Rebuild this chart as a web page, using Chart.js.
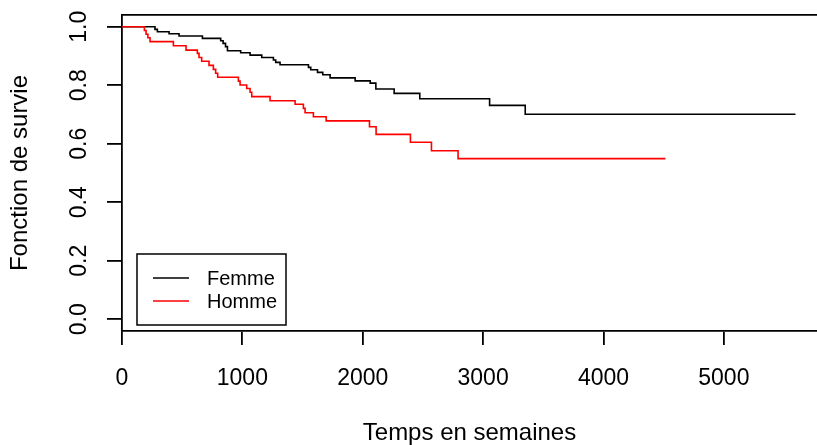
<!DOCTYPE html>
<html>
<head>
<meta charset="utf-8">
<script src="https://cdn.jsdelivr.net/npm/chart.js@4"></script>
<style>
html,body{margin:0;padding:0;background:#fff;overflow:hidden;}
canvas{display:block;}
</style>
</head>
<body>
<canvas id="c" width="817" height="445"></canvas>
<script>
// ---- Data (Kaplan-Meier step points: time in weeks, survival) ----
const femmeTimes = [0, 274, 294, 391, 474, 668, 820, 840, 860, 876, 986, 1064, 1161, 1258, 1277, 1313, 1549, 1568, 1624, 1668, 1729, 1937, 2062, 2109, 2261, 2474, 3054, 3350, 5595];
const femmeSurv  = [1.0, 0.991, 0.983, 0.976, 0.968, 0.960, 0.952, 0.943, 0.932, 0.918, 0.911, 0.903, 0.895, 0.886, 0.878, 0.870, 0.861, 0.853, 0.844, 0.836, 0.825, 0.815, 0.807, 0.787, 0.772, 0.754, 0.731, 0.701, 0.701];
const hommeTimes = [0, 186, 200, 215, 233, 427, 532, 626, 640, 662, 723, 759, 778, 795, 967, 981, 1036, 1064, 1078, 1230, 1438, 1507, 1521, 1590, 1696, 2056, 2111, 2396, 2571, 2792, 4515];
const hommeSurv  = [1.0, 0.987, 0.974, 0.962, 0.949, 0.935, 0.920, 0.909, 0.895, 0.882, 0.868, 0.854, 0.841, 0.827, 0.814, 0.801, 0.789, 0.776, 0.761, 0.747, 0.735, 0.721, 0.706, 0.692, 0.678, 0.658, 0.632, 0.605, 0.576, 0.549, 0.549];
const seriesLabels = ['Femme', 'Homme'];
const xTicks = [0, 1000, 2000, 3000, 4000, 5000];
const yTicks = [0.0, 0.2, 0.4, 0.6, 0.8, 1.0];
const xTitle = 'Temps en semaines';
const yTitle = 'Fonction de survie';

const toPts = (t, s) => t.map((v, i) => ({x: v, y: s[i]}));
const FONT = "'Liberation Sans', Arial, Helvetica, sans-serif";
Chart.defaults.font.family = FONT;
Chart.defaults.color = '#000';

const AXW = 1.8;
function zeroPad(s){ s.paddingTop = 0; s.paddingBottom = 0; s.paddingLeft = 0; s.paddingRight = 0; }

const legendBox = {
  id: 'legendBox',
  afterDraw(chart) {
    const ctx = chart.ctx;
    ctx.save();
    ctx.strokeStyle = '#000';
    ctx.lineWidth = 1.5;
    ctx.strokeRect(137, 254, 149, 71);
    const ys = [278, 301];
    ctx.font = '20px ' + FONT;
    ctx.textBaseline = 'middle';
    ctx.textAlign = 'left';
    chart.data.datasets.forEach((ds, i) => {
      ctx.strokeStyle = ds.borderColor;
      ctx.lineWidth = 1.6;
      ctx.beginPath();
      ctx.moveTo(153, ys[i]);
      ctx.lineTo(189, ys[i]);
      ctx.stroke();
      ctx.fillStyle = '#000';
      ctx.fillText(ds.label, 207, ys[i] + 1);
    });
    ctx.restore();
  }
};

new Chart(document.getElementById('c'), {
  type: 'line',
  data: {
    datasets: [
      { label: seriesLabels[0], data: toPts(femmeTimes, femmeSurv), borderColor: '#000000', borderWidth: 1.6, stepped: 'before', pointRadius: 0, fill: false, order: 1 },
      { label: seriesLabels[1], data: toPts(hommeTimes, hommeSurv), borderColor: '#ff0000', borderWidth: 1.6, stepped: 'before', pointRadius: 0, fill: false, order: 0 }
    ]
  },
  options: {
    responsive: false,
    devicePixelRatio: 1,
    animation: false,
    layout: { padding: { top: 15, left: 0, right: 0, bottom: 0 } },
    plugins: { legend: { display: false }, tooltip: { enabled: false } },
    scales: {
      x: {
        type: 'linear', position: 'bottom', min: 0, max: 5774,
        afterBuildTicks: s => { s.ticks = xTicks.map(v => ({value: v})); },
        afterFit: s => { s.height = 114; zeroPad(s); },
        ticks: { padding: 20, font: { size: 23 }, color: '#000', maxRotation: 0, autoSkip: false, callback: v => String(v) },
        grid: { drawOnChartArea: false, drawTicks: true, tickLength: 14, color: '#000', lineWidth: AXW },
        border: { display: true, color: '#000', width: AXW },
        title: { display: true, text: xTitle, color: '#000', font: { size: 24, lineHeight: 1 }, padding: { top: 0, bottom: 0 } }
      },
      x2: {
        type: 'linear', position: 'top', min: 0, max: 5774,
        afterFit: s => { s.height = 0; zeroPad(s); },
        ticks: { display: false },
        grid: { drawOnChartArea: false, drawTicks: false },
        border: { display: true, color: '#000', width: AXW }
      },
      y: {
        type: 'linear', position: 'left', min: -0.04, max: 1.04,
        afterBuildTicks: s => { s.ticks = yTicks.map(v => ({value: v})); },
        afterFit: s => { s.width = 122; zeroPad(s); },
        ticks: { minRotation: 90, maxRotation: 90, crossAlign: 'center', padding: 11, font: { size: 23 }, color: '#000', autoSkip: false, callback: v => Number(v).toFixed(1) },
        grid: { drawOnChartArea: false, drawTicks: true, tickLength: 15, color: '#000', lineWidth: AXW },
        border: { display: true, color: '#000', width: AXW },
        title: { display: true, text: yTitle, color: '#000', font: { size: 24, lineHeight: 1 }, padding: { top: 8.5, bottom: 0 } }
      }
    }
  },
  plugins: [legendBox]
});
</script>
</body>
</html>
